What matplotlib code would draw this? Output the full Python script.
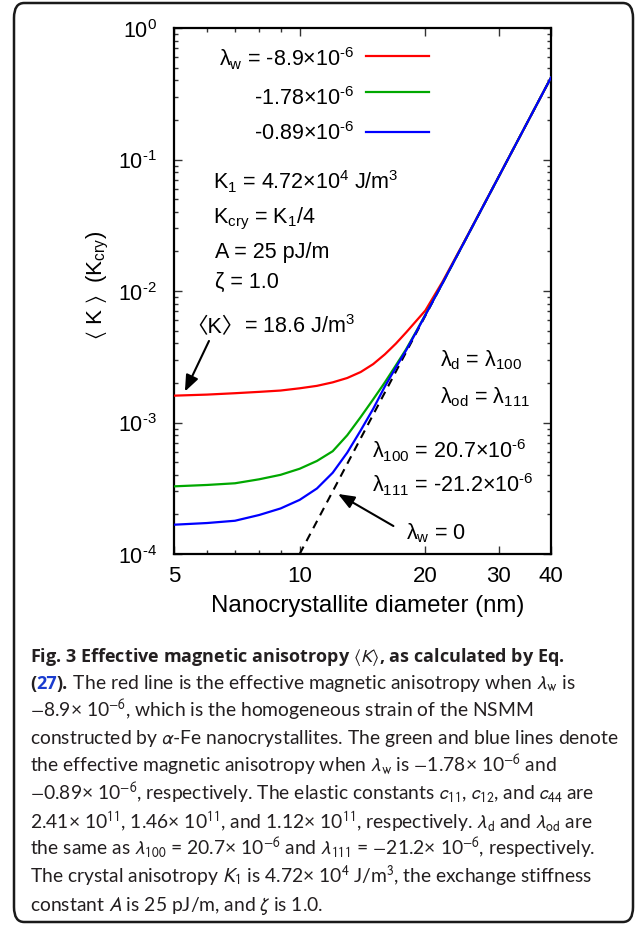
import matplotlib
matplotlib.use("Agg")
import matplotlib.pyplot as plt
from matplotlib.lines import Line2D
from matplotlib.patches import FancyBboxPatch
from matplotlib.ticker import FixedLocator, FixedFormatter, NullFormatter, LogLocator

plt.rcParams["font.family"] = ["Liberation Sans", "Noto Sans CJK JP", "DejaVu Sans"]
plt.rcParams["mathtext.fontset"] = "custom"
plt.rcParams["mathtext.rm"] = "Liberation Sans"
plt.rcParams["mathtext.it"] = "Liberation Sans:italic"
plt.rcParams["mathtext.bf"] = "Liberation Sans:bold"
plt.rcParams["mathtext.fallback"] = "stixsans"

# values: <K> in units of K_cry vs diameter (nm)
diameter = [5, 6, 7, 8, 9, 10, 11, 12, 13, 14, 15, 16, 17, 18, 19, 20, 22, 25, 30, 35, 40]
k_red = [1.60e-3, 1.63e-3, 1.67e-3, 1.71e-3, 1.75e-3, 1.82e-3, 1.90e-3, 2.02e-3, 2.18e-3,
         2.42e-3, 2.78e-3, 3.30e-3, 3.98e-3, 4.85e-3, 5.90e-3, 7.10e-3, 1.18e-2, 2.50e-2,
         7.44e-2, 0.188, 0.42]
k_green = [3.27e-4, 3.35e-4, 3.45e-4, 3.70e-4, 4.00e-4, 4.45e-4, 5.10e-4, 6.05e-4, 8.00e-4,
           1.10e-3, 1.50e-3, 2.02e-3, 2.72e-3, 3.62e-3, 4.90e-3, 6.60e-3, 1.15e-2, 2.48e-2,
           7.43e-2, 0.188, 0.42]
k_blue = [1.67e-4, 1.72e-4, 1.79e-4, 1.98e-4, 2.22e-4, 2.58e-4, 3.15e-4, 4.15e-4, 5.90e-4,
          8.70e-4, 1.27e-3, 1.88e-3, 2.62e-3, 3.55e-3, 4.85e-3, 6.55e-3, 1.15e-2, 2.48e-2,
          7.43e-2, 0.188, 0.42]
# lambda_w = 0 reference line
diameter_iso = [10, 40]
k_iso = [1.0e-4, 0.42]

HY = "\\text{-}"  # plain hyphen inside mathtext, like the original figure
series_labels = ["λ$_\\mathrm{w}$ = -8.9×10$^{%s6}$" % HY,
                 "-1.78×10$^{%s6}$" % HY, "-0.89×10$^{%s6}$" % HY]
series_colors = ["#ff0000", "#00a800", "#0000ff"]
x_ticks = [5, 10, 20, 30, 40]
x_minor = [6, 7, 8, 9]
y_ticks = [1e-4, 1e-3, 1e-2, 1e-1, 1]
y_tick_labels = ["10$^{%s4}$" % HY, "10$^{%s3}$" % HY, "10$^{%s2}$" % HY,
                 "10$^{%s1}$" % HY, "10$^{0}$"]

W, H = 636, 929
fig = plt.figure(figsize=(W / 100, H / 100), dpi=100)
renderer = fig.canvas.get_renderer()

# rounded frame around figure + caption
frame = FancyBboxPatch((14 / W, 1 - 923 / H), 619 / W, 919 / H,
                       boxstyle="round,pad=0,rounding_size=0.016",
                       transform=fig.transFigure, fill=False, lw=1.8, ec="#1a1a1a")
fig.patches.append(frame)

ax = fig.add_axes([174 / W, 1 - 555 / H, 377 / W, 526 / H])
ax.set_xscale("log")
ax.set_yscale("log")
ax.set_xlim(5, 40)
ax.set_ylim(1e-4, 1)

ax.plot(diameter_iso, k_iso, color="black", lw=1.5, ls=(0, (4, 3)), zorder=2)
for vals, c in zip([k_red, k_green, k_blue], series_colors):
    ax.plot(diameter, vals, color=c, lw=1.6, zorder=3)

ax.xaxis.set_major_locator(FixedLocator(x_ticks))
ax.xaxis.set_major_formatter(FixedFormatter([str(t) for t in x_ticks]))
ax.xaxis.set_minor_locator(FixedLocator(x_minor))
ax.xaxis.set_minor_formatter(NullFormatter())
ax.yaxis.set_major_locator(FixedLocator(y_ticks))
ax.yaxis.set_major_formatter(FixedFormatter(y_tick_labels))
ax.yaxis.set_minor_locator(LogLocator(base=10, subs=range(2, 10)))
ax.yaxis.set_minor_formatter(NullFormatter())
ax.tick_params(which="both", direction="in", top=True, right=True, width=1.0, color="#333333")
ax.tick_params(which="major", length=5.5)
ax.tick_params(which="minor", length=2.8)
ax.tick_params(axis="x", which="major", labelsize=16, pad=8)
ax.tick_params(axis="y", which="major", labelsize=15.5, pad=12.5)
for s in ax.spines.values():
    s.set_linewidth(1.6)

ax.set_xlabel("Nanocrystallite diameter (nm)", fontsize=17.3, labelpad=6)
ax.xaxis.label.set_x(0.515)
ax.set_ylabel("$\\langle$ K $\\rangle$  (K$_\\mathrm{cry}$)", fontsize=16)
ax.yaxis.set_label_coords(-0.166, 0.513)

fs = 15.5

# legend-style keys
key_y = [0.9473, 0.8789, 0.8023]
lab_y = [0.9290, 0.8555, 0.7890]
for lab, c, ky, ly in zip(series_labels, series_colors, key_y, lab_y):
    ax.text(0.4775, ly, lab, transform=ax.transAxes, ha="right", va="baseline", fontsize=fs)
    ax.add_line(Line2D([0.509, 0.676], [ky, ky], transform=ax.transAxes, color=c, lw=1.6))

notes = [
    (0.1034, 0.6958, "K$_\\mathrm{1}$ = 4.72×10$^4$ J/m$^3$"),
    (0.1034, 0.6312, "K$_\\mathrm{cry}$ = K$_\\mathrm{1}$/4"),
    (0.1088, 0.5646, "A = 25 pJ/m"),
    (0.1088, 0.5076, "ζ = 1.0"),
    (0.7056, 0.3593, "λ$_\\mathrm{d}$ = λ$_\\mathrm{100}$"),
    (0.7056, 0.2890, "λ$_\\mathrm{od}$ = λ$_\\mathrm{111}$"),
    (0.5252, 0.1844, "λ$_\\mathrm{100}$ = 20.7×10$^{%s6}$" % HY),
    (0.5252, 0.1199, "λ$_\\mathrm{111}$ = -21.2×10$^{%s6}$" % HY),
    (0.6154, 0.0304, "λ$_\\mathrm{w}$ = 0"),
]
for x, y, s in notes:
    ax.text(x, y, s, transform=ax.transAxes, ha="left", va="baseline", fontsize=fs)

# <K> note: CJK angle brackets as plain text, then the rest on the same baseline
t = ax.text(0.0320, 0.4221, "〈K〉", transform=ax.transAxes, ha="left", va="baseline",
            fontsize=fs)
bb = t.get_window_extent(renderer)
nx = ax.transAxes.inverted().transform((bb.x1 + 1, bb.y0))[0]
ax.text(nx, 0.4221, "= 18.6 J/m$^3$", transform=ax.transAxes, ha="left", va="baseline",
        fontsize=fs)

arrow = dict(arrowstyle="-|>,head_length=0.7,head_width=0.28", mutation_scale=14,
             lw=1.5, color="black", shrinkA=0, shrinkB=0)
ax.annotate("", xy=(5.31, 1.72e-3), xycoords="data", xytext=(0.0928, 0.405),
            textcoords="axes fraction", arrowprops=arrow)
ax.annotate("", xy=(12.36, 2.86e-4), xycoords="data", xytext=(0.582, 0.0532),
            textcoords="axes fraction", arrowprops=arrow)

# caption
cap_fs = 13.9
cap_col = "#231f20"
baselines = [662, 689.5, 717, 744.5, 772, 800, 828, 855.5, 883, 911]
reg = dict(fontsize=cap_fs, family="Lato", color=cap_col, math_fontfamily="stixsans")
bold = dict(fontsize=13.0, family="Open Sans", fontweight="bold", color=cap_col,
            math_fontfamily="stixsans")

lines = [
    [("Fig. 3 Effective magnetic anisotropy $\\langle K\\rangle$, as calculated by Eq.", bold)],
    [("(", bold), ("27", dict(bold, color="#1a3ccf")), (").", bold),
     (" The red line is the effective magnetic anisotropy when $\\lambda_\\mathrm{w}$ is", reg)],
    [("$-$8.9× 10$^{-6}$, which is the homogeneous strain of the NSMM", reg)],
    [("constructed by $\\alpha$-Fe nanocrystallites. The green and blue lines denote", reg)],
    [("the effective magnetic anisotropy when $\\lambda_\\mathrm{w}$ is $-$1.78× 10$^{-6}$ and", reg)],
    [("$-$0.89× 10$^{-6}$, respectively. The elastic constants $c_{11}$, $c_{12}$, and $c_{44}$ are", reg)],
    [("2.41× 10$^{11}$, 1.46× 10$^{11}$, and 1.12× 10$^{11}$, respectively. "
      "$\\lambda_\\mathrm{d}$ and $\\lambda_\\mathrm{od}$ are", reg)],
    [("the same as $\\lambda_{100}$ = 20.7× 10$^{-6}$ and $\\lambda_{111}$ = $-$21.2× 10$^{-6}$, respectively.", reg)],
    [("The crystal anisotropy $K_1$ is 4.72× 10$^4$ J/m$^3$, the exchange stiffness", reg)],
    [("constant $A$ is 25 pJ/m, and $\\zeta$ is 1.0.", reg)],
]

for pieces, by in zip(lines, baselines):
    x = 30 / W
    for s, props in pieces:
        t = fig.text(x, 1 - by / H, s, ha="left", va="baseline", **props)
        bb = t.get_window_extent(renderer)
        x = bb.x1 / fig.bbox.width

fig.savefig("out.png", dpi=100)
